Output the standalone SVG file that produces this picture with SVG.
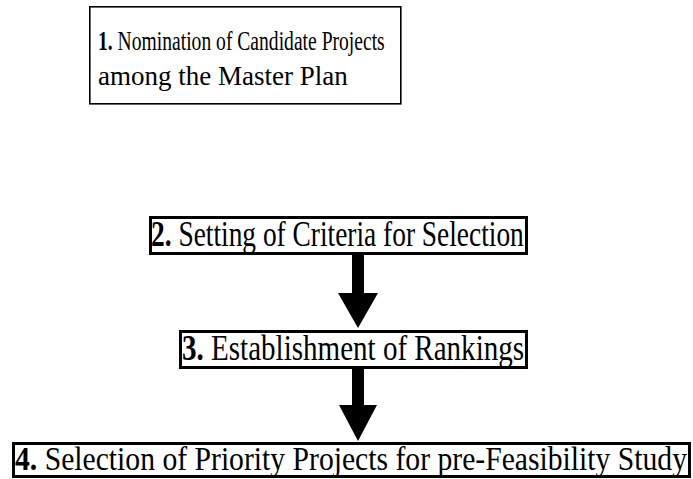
<svg xmlns="http://www.w3.org/2000/svg" width="693" height="479" viewBox="0 0 693 479">
  <style>
    .box { fill: #ffffff; stroke: #000000; stroke-width: 3; }
    .thin { stroke-width: 1.6; }
    text { font-family: "Liberation Serif", "DejaVu Serif", serif; fill: #000000; }
    .num { font-weight: bold; }
    .arrow { fill: #000000; stroke: none; }
  </style>

  <!-- step 1 -->
  <g id="step1">
    <rect class="box thin" x="89.8" y="6.8" width="311" height="97"/>
    <text transform="translate(98,50) scale(0.7,1)" font-size="28"><tspan class="num">1.</tspan> Nomination of Candidate Projects</text>
    <text x="98" y="85" font-size="27">among the Master Plan</text>
  </g>

  <!-- step 2 -->
  <g id="step2">
    <rect class="box" x="150.5" y="217.5" width="376" height="36"/>
    <text transform="translate(151,246) scale(0.783,1)" font-size="35"><tspan class="num">2.</tspan> Setting of Criteria for Selection</text>
  </g>

  <!-- step 3 -->
  <g id="step3">
    <rect class="box" x="180.5" y="331.5" width="346" height="36"/>
    <text transform="translate(182,360) scale(0.83,1)" font-size="35"><tspan class="num">3.</tspan> Establishment of Rankings</text>
  </g>

  <!-- step 4 -->
  <g id="step4">
    <rect class="box" x="13.5" y="443.5" width="676" height="33"/>
    <text transform="translate(15,470) scale(0.899,1)" font-size="33"><tspan class="num">4.</tspan> Selection of Priority Projects for pre-Feasibility Study</text>
  </g>

  <!-- block arrows between steps -->
  <g id="connectors">
    <path class="arrow" d="M352,254 H364 V293 H378 L358,328 L338,293 H352 Z"/>
    <path class="arrow" d="M352,368 H364 V405 H377 L358,441 L339,405 H352 Z"/>
  </g>
</svg>
